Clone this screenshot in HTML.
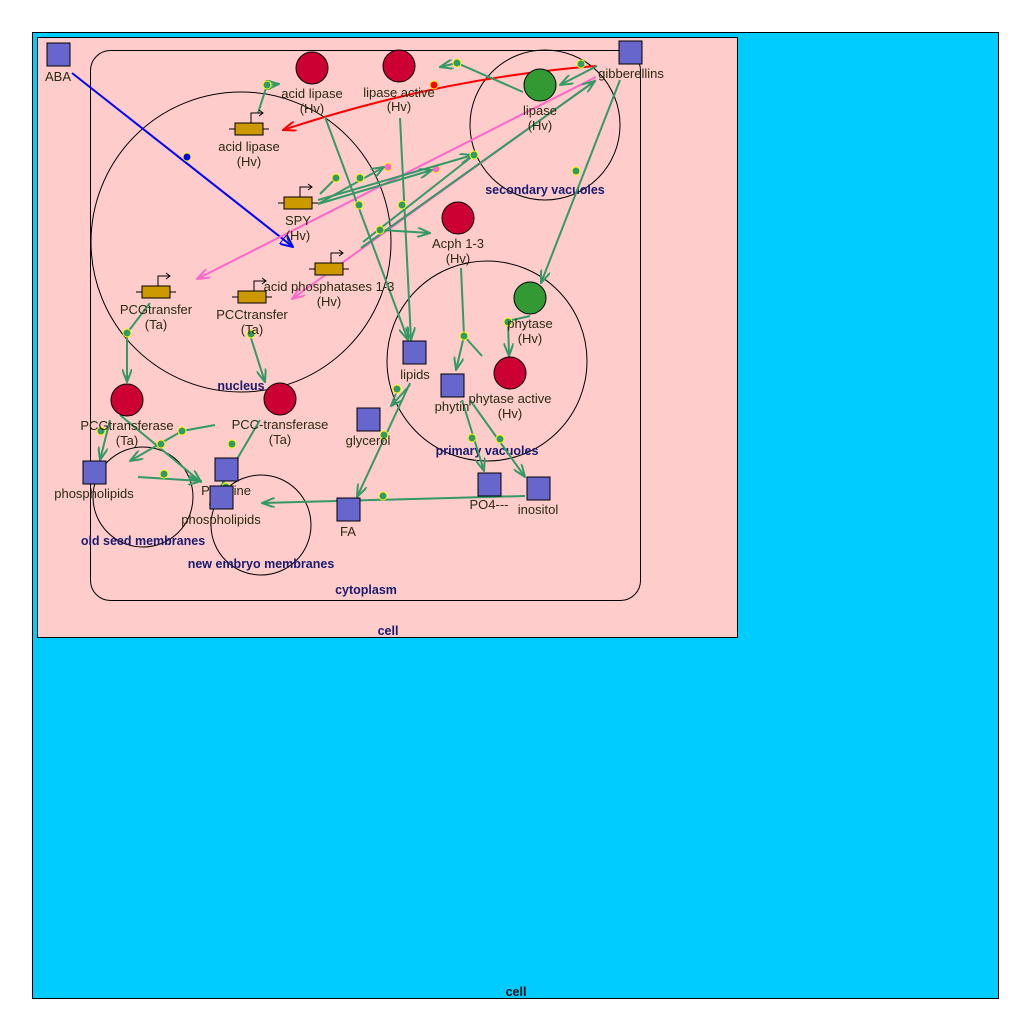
<!DOCTYPE html>
<html><head><meta charset="utf-8"><style>
html,body{margin:0;padding:0;background:#fff;}
svg{display:block;}
text{font-family:"Liberation Sans",sans-serif;}
.l{font-size:13px;fill:#2a2a10;text-anchor:middle;}
.c{font-size:12.5px;font-weight:bold;fill:#1a1a6e;text-anchor:middle;}
.g{stroke:#339966;stroke-width:2;fill:none;}
.d{fill:#339966;stroke:#ffff00;stroke-width:1;}
.sq{fill:#6666cc;stroke:#000;stroke-width:1;}
.rc{fill:#cc0033;stroke:#000;stroke-width:1;}
.gc{fill:#339933;stroke:#000;stroke-width:1;}
.gn{fill:#cc9900;stroke:#000;stroke-width:1;}
</style></head><body>
<svg width="1030" height="1030" viewBox="0 0 1030 1030" xmlns="http://www.w3.org/2000/svg">
<defs>
<marker id="ag" markerWidth="14" markerHeight="10" refX="13" refY="5" orient="auto" markerUnits="userSpaceOnUse"><path d="M0,0 L13,5 L0,10" fill="none" stroke="#339966" stroke-width="2"/></marker>
<marker id="ar" markerWidth="14" markerHeight="10" refX="13" refY="5" orient="auto" markerUnits="userSpaceOnUse"><path d="M0,0 L13,5 L0,10" fill="none" stroke="#ff0000" stroke-width="2"/></marker>
<marker id="ap" markerWidth="14" markerHeight="10" refX="13" refY="5" orient="auto" markerUnits="userSpaceOnUse"><path d="M0,0 L13,5 L0,10" fill="none" stroke="#ff66cc" stroke-width="2"/></marker>
<marker id="ab" markerWidth="14" markerHeight="12" refX="13" refY="6" orient="auto" markerUnits="userSpaceOnUse"><path d="M0,0 L13,6 L0,12 Z" fill="none" stroke="#0000ff" stroke-width="2"/></marker>
</defs>
<rect x="32.5" y="32.5" width="966" height="966" fill="#00ccff" stroke="#000"/>
<text x="516" y="996" class="c" style="fill:#111">cell</text>
<rect x="37.5" y="37.5" width="700" height="600" fill="#ffcccc" stroke="#000"/>
<text x="388" y="635" class="c">cell</text>
<rect x="90.5" y="50.5" width="550" height="550" rx="20" fill="none" stroke="#000"/>
<text x="366" y="594" class="c">cytoplasm</text>
<circle cx="241" cy="242" r="150" fill="none" stroke="#000"/>
<text x="241" y="390" class="c">nucleus</text>
<circle cx="545" cy="125" r="75" fill="none" stroke="#000"/>
<text x="545" y="194" class="c">secondary vacuoles</text>
<circle cx="487" cy="361" r="100" fill="none" stroke="#000"/>
<text x="487" y="455" class="c">primary  vacuoles</text>
<circle cx="143" cy="497" r="50" fill="none" stroke="#000"/>
<text x="143" y="545" class="c">old seed  membranes</text>
<circle cx="261" cy="525" r="50" fill="none" stroke="#000"/>
<text x="261" y="568" class="c">new embryo membranes</text>

<line x1="72" y1="73" x2="293" y2="247" stroke="#0000ff" stroke-width="2" marker-end="url(#ab)"/>
<circle cx="187" cy="157" r="4" fill="#0000ff" stroke="#ff0" stroke-width="1"/>
<path d="M596,66 Q440,78 283,130" stroke="#ff0000" stroke-width="2" fill="none" marker-end="url(#ar)"/>
<circle cx="434" cy="85" r="4" fill="#ff0000" stroke="#ff0"/>
<line x1="596" y1="77" x2="197" y2="279" stroke="#ff66cc" stroke-width="2" marker-end="url(#ap)"/>
<line x1="596" y1="80" x2="292" y2="299" stroke="#ff66cc" stroke-width="2" marker-end="url(#ap)"/>
<circle cx="388" cy="167" r="4" fill="#ff66cc" stroke="#ff0"/>
<circle cx="436" cy="169" r="4" fill="#ff66cc" stroke="#ff0"/>

<g class="g">
<line x1="361" y1="248" x2="595" y2="81" marker-end="url(#ag)"/>
<line x1="363" y1="242" x2="474" y2="155"/>
<line x1="318" y1="200" x2="473" y2="155" marker-end="url(#ag)"/>
<line x1="318" y1="204" x2="384" y2="167" marker-end="url(#ag)"/>
<line x1="318" y1="204" x2="432" y2="170" marker-end="url(#ag)"/>
<line x1="320" y1="194" x2="336" y2="178"/>
<line x1="597" y1="66" x2="560" y2="85" marker-end="url(#ag)"/>
<line x1="523" y1="92" x2="457" y2="63"/>
<line x1="457" y1="63" x2="440" y2="67" marker-end="url(#ag)"/>
<line x1="620" y1="80" x2="541" y2="283" marker-end="url(#ag)"/>
<line x1="325" y1="117" x2="408" y2="340" marker-end="url(#ag)"/>
<line x1="400" y1="118" x2="411" y2="340" marker-end="url(#ag)"/>
<line x1="380" y1="230" x2="430" y2="233" marker-end="url(#ag)"/>
<line x1="258" y1="113" x2="267" y2="85"/>
<line x1="267" y1="85" x2="279" y2="84" marker-end="url(#ag)"/>
<line x1="461" y1="268" x2="464" y2="336"/>
<line x1="464" y1="336" x2="456" y2="370" marker-end="url(#ag)"/>
<line x1="464" y1="336" x2="482" y2="356"/>
<line x1="530" y1="316" x2="508" y2="321"/>
<line x1="508" y1="321" x2="509" y2="356" marker-end="url(#ag)"/>
<line x1="410" y1="385" x2="391" y2="406" marker-end="url(#ag)"/>
<line x1="410" y1="383" x2="357" y2="497" marker-end="url(#ag)"/>
<line x1="462" y1="400" x2="484" y2="471" marker-end="url(#ag)"/>
<line x1="470" y1="400" x2="525" y2="477" marker-end="url(#ag)"/>
<line x1="525" y1="496" x2="262" y2="503" marker-end="url(#ag)"/>
<line x1="150" y1="303" x2="127" y2="333"/>
<line x1="127" y1="333" x2="127" y2="382" marker-end="url(#ag)"/>
<line x1="250" y1="335" x2="265" y2="382" marker-end="url(#ag)"/>
<line x1="110" y1="420" x2="100" y2="460" marker-end="url(#ag)"/>
<line x1="215" y1="425" x2="182" y2="431"/>
<line x1="182" y1="431" x2="130" y2="461" marker-end="url(#ag)"/>
<line x1="120" y1="415" x2="201" y2="482" marker-end="url(#ag)"/>
<line x1="138" y1="477" x2="201" y2="481" marker-end="url(#ag)"/>
<line x1="260" y1="420" x2="210" y2="505" marker-end="url(#ag)"/>
</g>
<g class="d">
<circle cx="474" cy="155" r="4"/><circle cx="336" cy="178" r="4"/><circle cx="360" cy="178" r="4"/>
<circle cx="581" cy="64" r="4"/><circle cx="457" cy="63" r="4"/><circle cx="576" cy="171" r="4"/>
<circle cx="359" cy="205" r="4"/><circle cx="402" cy="205" r="4"/><circle cx="380" cy="230" r="4"/>
<circle cx="267" cy="85" r="4"/><circle cx="464" cy="336" r="4"/><circle cx="508" cy="322" r="4"/>
<circle cx="397" cy="389" r="4"/><circle cx="384" cy="435" r="4"/><circle cx="472" cy="438" r="4"/>
<circle cx="500" cy="439" r="4"/><circle cx="383" cy="496" r="4"/><circle cx="127" cy="333" r="4"/>
<circle cx="251" cy="334" r="4"/><circle cx="101" cy="431" r="4"/><circle cx="182" cy="431" r="4"/>
<circle cx="161" cy="444" r="4"/><circle cx="164" cy="474" r="4"/><circle cx="232" cy="444" r="4"/>
<circle cx="226" cy="487" r="4"/>
</g>

<rect class="sq" x="47" y="43" width="23" height="23"/><text class="l" x="58" y="81">ABA</text>
<rect class="sq" x="619" y="41" width="23" height="23"/><text class="l" x="631" y="78">gibberellins</text>
<circle class="rc" cx="312" cy="68" r="16"/><text class="l" x="312" y="98">acid lipase</text><text class="l" x="312" y="113">(Hv)</text>
<circle class="rc" cx="399" cy="66" r="16"/><text class="l" x="399" y="97">lipase active</text><text class="l" x="399" y="111">(Hv)</text>
<circle class="rc" cx="458" cy="218" r="16"/><text class="l" x="458" y="248">Acph 1-3</text><text class="l" x="458" y="263">(Hv)</text>
<circle class="rc" cx="127" cy="400" r="16"/><text class="l" x="127" y="430">PCGtransferase</text><text class="l" x="127" y="445">(Ta)</text>
<circle class="rc" cx="280" cy="399" r="16"/><text class="l" x="280" y="429">PCC-transferase</text><text class="l" x="280" y="444">(Ta)</text>
<circle class="rc" cx="510" cy="373" r="16"/><text class="l" x="510" y="403">phytase active</text><text class="l" x="510" y="418">(Hv)</text>
<circle class="gc" cx="540" cy="85" r="16"/><text class="l" x="540" y="115">lipase</text><text class="l" x="540" y="130">(Hv)</text>
<circle class="gc" cx="530" cy="298" r="16"/><text class="l" x="530" y="328">phytase</text><text class="l" x="530" y="343">(Hv)</text>

<g>
<g transform="translate(249,129)"><line x1="-20" y1="0" x2="20" y2="0" stroke="#000"/><rect class="gn" x="-14" y="-6" width="28" height="12"/><path d="M2,-6 V-16 H14 M10,-19 L14,-16 L10,-13" fill="none" stroke="#000"/></g>
<text class="l" x="249" y="151">acid lipase</text><text class="l" x="249" y="166">(Hv)</text>
<g transform="translate(298,203)"><line x1="-20" y1="0" x2="20" y2="0" stroke="#000"/><rect class="gn" x="-14" y="-6" width="28" height="12"/><path d="M2,-6 V-16 H14 M10,-19 L14,-16 L10,-13" fill="none" stroke="#000"/></g>
<text class="l" x="298" y="225">SPY</text><text class="l" x="298" y="240">(Hv)</text>
<g transform="translate(329,269)"><line x1="-20" y1="0" x2="20" y2="0" stroke="#000"/><rect class="gn" x="-14" y="-6" width="28" height="12"/><path d="M2,-6 V-16 H14 M10,-19 L14,-16 L10,-13" fill="none" stroke="#000"/></g>
<text class="l" x="329" y="291">acid phosphatases 1-3</text><text class="l" x="329" y="306">(Hv)</text>
<g transform="translate(156,292)"><line x1="-20" y1="0" x2="20" y2="0" stroke="#000"/><rect class="gn" x="-14" y="-6" width="28" height="12"/><path d="M2,-6 V-16 H14 M10,-19 L14,-16 L10,-13" fill="none" stroke="#000"/></g>
<text class="l" x="156" y="314">PCGtransfer</text><text class="l" x="156" y="329">(Ta)</text>
<g transform="translate(252,297)"><line x1="-20" y1="0" x2="20" y2="0" stroke="#000"/><rect class="gn" x="-14" y="-6" width="28" height="12"/><path d="M2,-6 V-16 H14 M10,-19 L14,-16 L10,-13" fill="none" stroke="#000"/></g>
<text class="l" x="252" y="319">PCCtransfer</text><text class="l" x="252" y="334">(Ta)</text>
</g>

<rect class="sq" x="403" y="341" width="23" height="23"/><text class="l" x="415" y="379">lipids</text>
<rect class="sq" x="441" y="374" width="23" height="23"/><text class="l" x="452" y="411">phytin</text>
<rect class="sq" x="357" y="408" width="23" height="23"/><text class="l" x="368" y="445">glycerol</text>
<rect class="sq" x="337" y="498" width="23" height="23"/><text class="l" x="348" y="536">FA</text>
<rect class="sq" x="478" y="473" width="23" height="23"/><text class="l" x="489" y="509">PO4---</text>
<rect class="sq" x="527" y="477" width="23" height="23"/><text class="l" x="538" y="514">inositol</text>
<rect class="sq" x="83" y="461" width="23" height="23"/><text class="l" x="94" y="498">phospholipids</text>
<rect class="sq" x="215" y="458" width="23" height="23"/><text class="l" x="226" y="495">Pcholine</text>
<rect class="sq" x="210" y="486" width="23" height="23"/><text class="l" x="221" y="524">phospholipids</text>
</svg>
</body></html>
